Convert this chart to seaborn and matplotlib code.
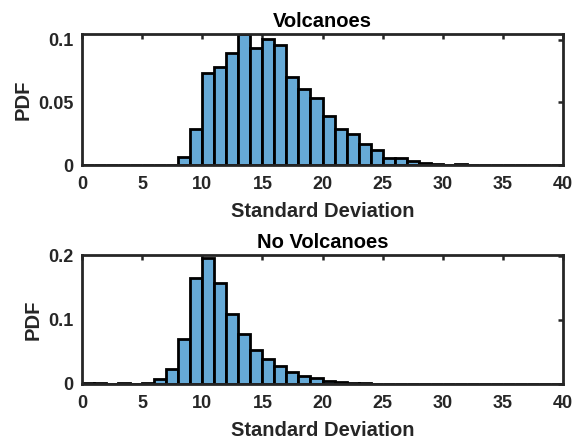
import numpy as np
import pandas as pd
import matplotlib
matplotlib.use("Agg")
import matplotlib.pyplot as plt
import seaborn as sns

# Data (bin width 1, edges at integers)
volc_edges = list(range(0, 41))
volc_pdf = [0, 0, 0, 0, 0, 0, 0, 0,
            0.0061, 0.0289, 0.0730, 0.0783, 0.0896, 0.1045, 0.0930, 0.1005,
            0.0957, 0.0700, 0.0605, 0.0537, 0.0388, 0.0289, 0.0244, 0.0164,
            0.0120, 0.0054, 0.0054, 0.0032, 0.0017, 0.0009, 0.0, 0.0008,
            0, 0, 0, 0, 0, 0, 0, 0]

novolc_edges = list(range(0, 41))
novolc_pdf = [0.0015, 0.0015, 0.0005, 0.0015, 0.0005, 0.0008, 0.0085, 0.0230,
              0.0700, 0.1650, 0.1975, 0.1570, 0.1100, 0.0775, 0.0530, 0.0385,
              0.0275, 0.0190, 0.0130, 0.0088, 0.0045, 0.0030, 0.0020, 0.0010,
              0, 0, 0, 0, 0, 0, 0, 0, 0, 0, 0, 0, 0, 0, 0, 0]

titles = ["Volcanoes", "No Volcanoes"]
xlabel = "Standard Deviation"
ylabel = "PDF"
xticks = [0, 5, 10, 15, 20, 25, 30, 35, 40]
yticks_top = [0, 0.05, 0.1]
yticks_bot = [0, 0.1, 0.2]
ytick_labels_top = ["0", "0.05", "0.1"]
ytick_labels_bot = ["0", "0.1", "0.2"]

sns.set_style("white")
plt.rcParams['font.family'] = ['Liberation Sans', 'DejaVu Sans']
plt.rcParams['font.weight'] = 'bold'

fig = plt.figure(figsize=(5.78, 4.45), dpi=100)
ax1 = fig.add_axes([82/578, (445-165)/445, (563-82)/578, (165-34)/445])
ax2 = fig.add_axes([82/578, (445-384)/445, (563-82)/578, (384-255)/445])

face = (0.4, 0.668, 0.845)
axcol = "#262626"

def draw(ax, edges, vals, title, yt, ytl, ytop):
    centers = [(edges[i] + edges[i + 1]) / 2 for i in range(len(edges) - 1)]
    df = pd.DataFrame({"x": centers, "w": vals})
    sns.histplot(data=df, x="x", weights="w", bins=list(edges), stat="count",
                 color=face, alpha=1.0, edgecolor="black", linewidth=2.0, ax=ax)
    ax.set_xlim(0, 40)
    ax.set_ylim(0, ytop)
    ax.set_xticks(xticks)
    ax.set_xticklabels([str(t) for t in xticks])
    ax.set_yticks(yt)
    ax.set_yticklabels(ytl)
    ax.set_title(title, fontsize=14.5, fontweight="bold", pad=5, color="black")
    ax.set_xlabel(xlabel, fontsize=14.5, fontweight="bold", labelpad=6.5, color=axcol)
    ax.set_ylabel(ylabel, fontsize=14.5, fontweight="bold", labelpad=4, color=axcol)
    ax.tick_params(axis="x", pad=8)
    ax.tick_params(axis="y", pad=6)
    ax.tick_params(direction="in", top=True, right=True, length=3.8, width=1.8,
                   colors=axcol, labelsize=13)
    for lab in ax.get_xticklabels() + ax.get_yticklabels():
        lab.set_fontweight("bold")
    for s in ax.spines.values():
        s.set_visible(True)
        s.set_color(axcol)
        s.set_linewidth(2.0)

draw(ax1, volc_edges, volc_pdf, titles[0], yticks_top, ytick_labels_top, 0.1045)
draw(ax2, novolc_edges, novolc_pdf, titles[1], yticks_bot, ytick_labels_bot, 0.2015)

fig.savefig("out.png", dpi=100)
